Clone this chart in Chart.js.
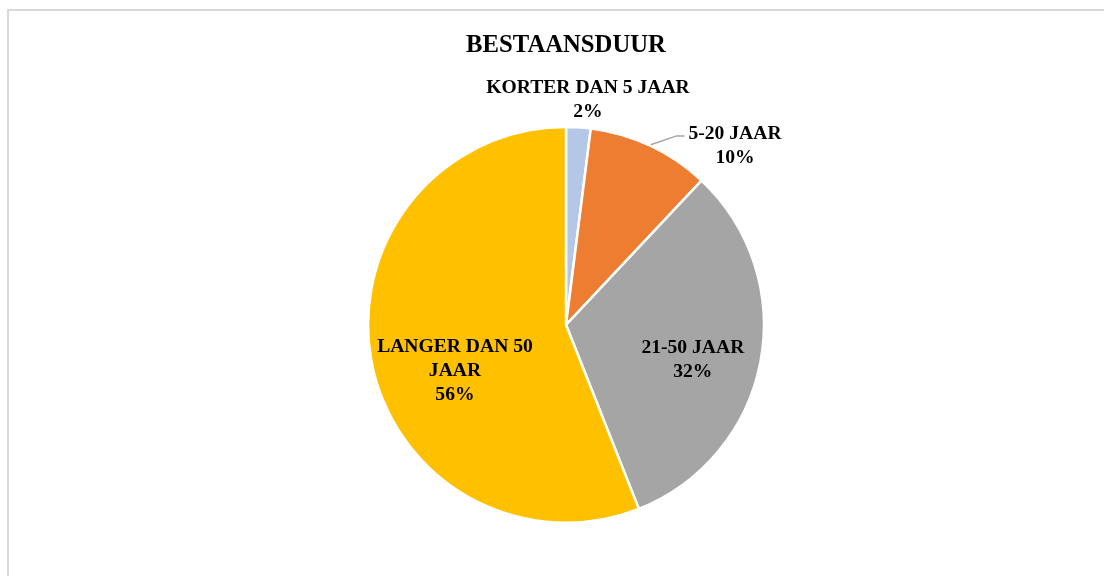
<!DOCTYPE html>
<html>
<head>
<meta charset="utf-8">
<script src="https://cdn.jsdelivr.net/npm/chart.js@4"></script>
<style>
  body { margin: 0; background: #fff; }
  #wrap { position: relative; width: 1104px; height: 576px; }
  #frame { position: absolute; left: 7px; top: 9px; right: 0; bottom: 0;
           border-top: 2px solid #d9d9d9; border-left: 2px solid #d9d9d9; }
  #pie { position: absolute; left: 0; top: 0; }
</style>
</head>
<body>
<div id="wrap">
  <div id="frame"></div>
  <canvas id="pie" width="1104" height="576"></canvas>
</div>
<script>
// data
const categories = ['KORTER DAN 5 JAAR', '5-20 JAAR', '21-50 JAAR', 'LANGER DAN 50 JAAR'];
const values = [2, 10, 32, 56];
const colors = ['#B4C7E7', '#ED7D31', '#A5A5A5', '#FFC000'];

// label placement, in units of the pie radius from the centre
const labelPos = [
    { x: 0.111, y: -1.144, wrap: 0 },
    { x: 0.854, y: -0.909, wrap: 0, leader: true },
    { x: 0.641, y: 0.172, wrap: 0 },
    { x: -0.561, y: 0.227, wrap: 170 }
];

const FONT = '"Liberation Serif"';
const labelSize = 19.6;
const lineGap = 24;

function wrapText(ctx, text, maxW) {
    if (!maxW) return [text];
    const words = text.split(' ');
    const lines = [];
    let cur = '';
    words.forEach(w => {
        const t = cur ? cur + ' ' + w : w;
        if (cur && ctx.measureText(t).width > maxW) {
            lines.push(cur);
            cur = w;
        } else {
            cur = t;
        }
    });
    lines.push(cur);
    return lines;
}

const pieLabels = {
    id: 'pieLabels',
    afterDatasetsDraw(chart) {
        const ctx = chart.ctx;
        const meta = chart.getDatasetMeta(0);
        const total = values.reduce((a, b) => a + b, 0);
        ctx.save();
        ctx.font = 'bold ' + labelSize + 'px ' + FONT;
        ctx.fillStyle = '#000';
        ctx.textAlign = 'center';
        ctx.textBaseline = 'alphabetic';
        meta.data.forEach((arc, i) => {
            const p = arc.getProps(['x', 'y', 'outerRadius', 'startAngle', 'endAngle']);
            const r = p.outerRadius;
            const cx = p.x + labelPos[i].x * r;
            const cy = p.y + labelPos[i].y * r;
            const lines = wrapText(ctx, categories[i], labelPos[i].wrap);
            lines.push(Math.round(values[i] / total * 100) + '%');
            const top = cy - (lines.length - 1) * lineGap / 2;
            const capH = labelSize * 0.66;
            lines.forEach((ln, k) => {
                ctx.fillText(ln, cx, top + k * lineGap + capH / 2);
            });
            if (labelPos[i].leader) {
                const mid = (p.startAngle + p.endAngle) / 2;
                const sx = p.x + Math.cos(mid) * (r + 1);
                const sy = p.y + Math.sin(mid) * (r + 1);
                const w = ctx.measureText(lines[0]).width;
                const ex = cx - w / 2 - 4;
                const ey = top + 3;
                ctx.beginPath();
                ctx.strokeStyle = '#A6A6A6';
                ctx.lineWidth = 1.5;
                ctx.moveTo(sx, sy);
                ctx.lineTo(ex - 8, ey);
                ctx.lineTo(ex, ey);
                ctx.stroke();
            }
        });
        ctx.restore();
    }
};

const ctx = document.getElementById('pie').getContext('2d');
const pieChart = new Chart(ctx, {
    type: 'pie',
    data: {
        labels: categories,
        datasets: [{
            data: values,
            backgroundColor: colors,
            borderColor: '#ffffff',
            borderWidth: 2.5,
            hoverOffset: 0
        }]
    },
    options: {
        responsive: false,
        animation: false,
        layout: {
            padding: { top: 0, bottom: 52, left: 28, right: 0 }
        },
        plugins: {
            legend: { display: false },
            tooltip: { enabled: false },
            title: {
                display: true,
                text: 'BESTAANSDUUR',
                color: '#000',
                font: { family: FONT, size: 24.7, weight: 'bold', lineHeight: 1.2 },
                padding: { top: 31, bottom: 65 }
            }
        }
    },
    plugins: [pieLabels]
});
</script>
</body>
</html>
